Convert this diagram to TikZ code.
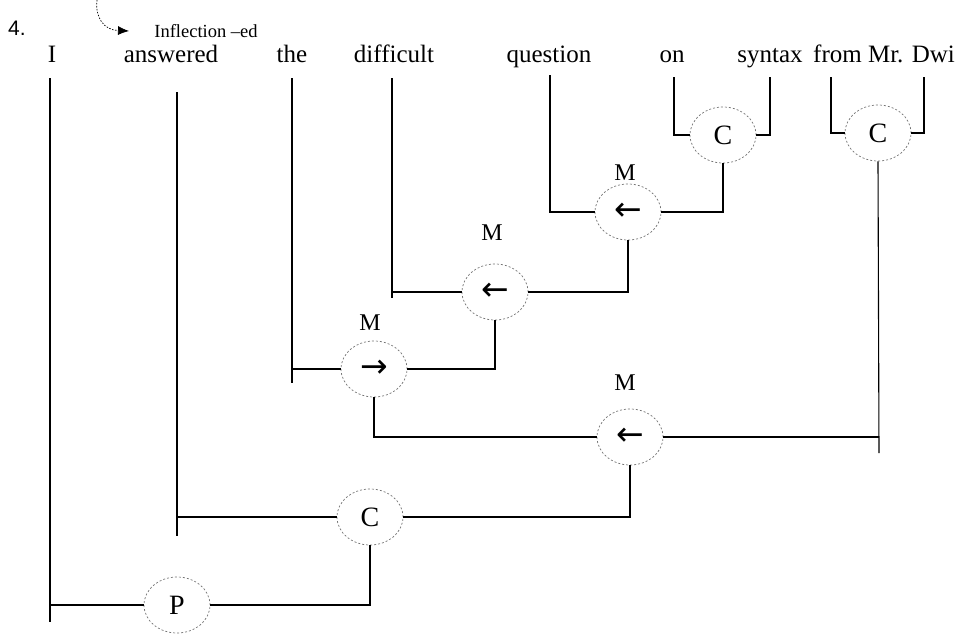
\documentclass[tikz,border=0pt]{standalone}
\usepackage{fontspec}
\setmainfont{Liberation Serif}
\newfontfamily\sansf{Liberation Sans}
\newfontfamily\symf{DejaVu Sans}
\usetikzlibrary{shapes.geometric,arrows.meta}
\begin{document}
\begin{tikzpicture}[x=1pt,y=-1pt,
  word/.style={anchor=base,inner sep=0pt,font=\fontsize{25}{28}\selectfont},
  cat/.style={ellipse,minimum width=66pt,minimum height=56pt,inner sep=0pt,
    draw=black!55,dash pattern=on 2pt off 2pt,line width=0.7pt,
    font=\fontsize{28}{30}\selectfont},
  arr/.style={cat,font=\symf\fontsize{33}{34}\selectfont},
  mlab/.style={inner sep=0pt,font=\fontsize{24}{26}\selectfont},
  conn/.style={line width=1.1pt,black}]
\useasboundingbox (0,0) rectangle (970,637);

% header
\node[anchor=base,inner sep=0pt,font=\sansf\fontsize{21}{24}\selectfont] (num) at (17,35) {4.};
\node[anchor=base,inner sep=0pt,font=\fontsize{18.5}{20}\selectfont] (infl) at (206,37) {Inflection --ed};
\coordinate (cs) at (97,0);
\coordinate (ce) at (129,31);
\draw[dash pattern=on 1.5pt off 1.5pt,line width=0.7pt,-{Latex[length=11pt,width=9pt]}]
  (cs) .. controls (95,18) and (104,30) .. (ce);

% words
\node[word] (wI) at (52,62) {I};
\node[word] (wA) at (171,62) {answered};
\node[word] (wT) at (292,62) {the};
\node[word] (wD) at (394,62) {difficult};
\node[word] (wQ) at (549,62) {question};
\node[word] (wO) at (672,62) {on};
\node[word] (wS) at (770,62) {syntax};
\node[word] (wF) at (884,62) {from Mr. Dwi};

% line tops / bottoms
\coordinate (tI) at (50,78);   \coordinate (bI) at (50,622);
\coordinate (tA) at (177,92);  \coordinate (bA) at (177,536);
\coordinate (tT) at (292,78);  \coordinate (bT) at (292,383);
\coordinate (tD) at (392,78);  \coordinate (bD) at (392,298);
\coordinate (tQ) at (550,75);
\coordinate (tO) at (674,77);
\coordinate (tS) at (770,77);
\coordinate (tF) at (831,77);
\coordinate (tW) at (924,77);
\coordinate (bC) at (879,453);

% category nodes
\node[cat] (C1) at (723,135) {C};
\node[cat] (C2) at (878,133) {C};
\node[arr] (M1) at (628,212) {←};
\node[arr] (M2) at (495,292) {←};
\node[arr] (M3) at (374,369) {→};
\node[arr] (M4) at (630,437) {←};
\node[cat] (C3) at (370,517) {C};
\node[cat] (P)  at (177,605) {P};

\node[mlab] (L1) at (625,173) {M};
\node[mlab] (L2) at (492,233) {M};
\node[mlab] (L3) at (370,323) {M};
\node[mlab] (L4) at (625,383) {M};

% connectors
\draw[conn] (tO) |- (C1.west);
\draw[conn] (tS) |- (C1.east);
\draw[conn] (tF) |- (C2.west);
\draw[conn] (tW) |- (C2.east);
\draw[conn] (tQ) |- (M1.west);
\draw[conn] (M1.east) -| (C1.south);
\draw[conn] (tD) -- (bD);
\draw[conn] (M2.west) -- (M2.west -| tD);
\draw[conn] (M2.east) -| (M1.south);
\draw[conn] (tT) -- (bT);
\draw[conn] (M3.west) -- (M3.west -| tT);
\draw[conn] (M3.east) -| (M2.south);
\draw[conn] (C2.south) -- (bC);
\draw[conn] (M4.east) -- (M4.east -| bC);
\draw[conn] (M4.west) -| (M3.south);
\draw[conn] (tA) -- (bA);
\draw[conn] (C3.west) -- (C3.west -| tA);
\draw[conn] (C3.east) -| (M4.south);
\draw[conn] (tI) -- (bI);
\draw[conn] (P.west) -- (P.west -| tI);
\draw[conn] (P.east) -| (C3.south);
\end{tikzpicture}
\end{document}
